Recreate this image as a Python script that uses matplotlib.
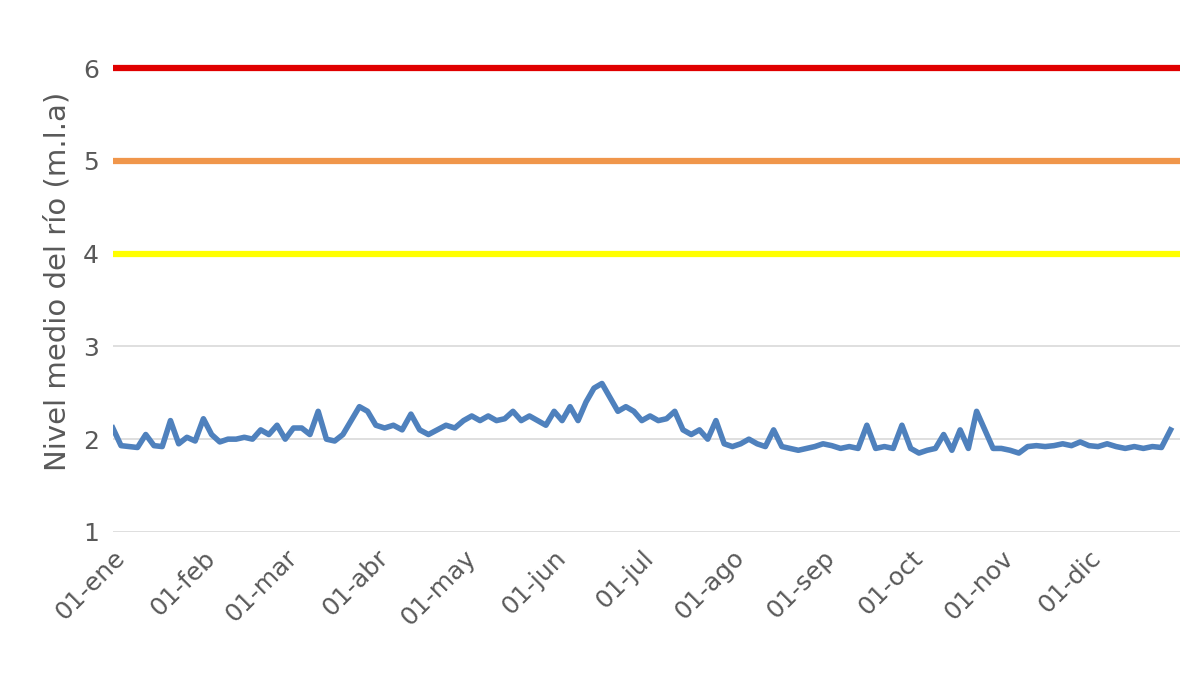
import numpy as np
import matplotlib.pyplot as plt

# DATA ----------------------------------------------------------
month_labels = ['01-ene', '01-feb', '01-mar', '01-abr', '01-may', '01-jun',
                '01-jul', '01-ago', '01-sep', '01-oct', '01-nov', '01-dic']
month_days = [31, 28, 31, 30, 31, 30, 31, 31, 30, 31, 30, 31]

# river level, roughly every 3 days, per month
level_by_month = [
    [2.12, 1.93, 1.92, 1.91, 2.05, 1.93, 1.92, 2.2, 1.95, 2.02, 1.98],
    [2.22, 2.05, 1.97, 2.0, 2.0, 2.02, 2.0, 2.1, 2.05, 2.15],
    [2.0, 2.12, 2.12, 2.05, 2.3, 2.0, 1.98, 2.05, 2.2, 2.35, 2.3],
    [2.15, 2.12, 2.15, 2.1, 2.27, 2.1, 2.05, 2.1, 2.15, 2.12],
    [2.2, 2.25, 2.2, 2.25, 2.2, 2.22, 2.3, 2.2, 2.25, 2.2, 2.15],
    [2.3, 2.2, 2.35, 2.2, 2.4, 2.55, 2.6, 2.45, 2.3, 2.35, 2.3],
    [2.2, 2.25, 2.2, 2.22, 2.3, 2.1, 2.05, 2.1, 2.0, 2.2, 1.95],
    [1.92, 1.95, 2.0, 1.95, 1.92, 2.1, 1.92, 1.9, 1.88, 1.9, 1.92],
    [1.95, 1.93, 1.9, 1.92, 1.9, 2.15, 1.9, 1.92, 1.9, 2.15],
    [1.9, 1.85, 1.88, 1.9, 2.05, 1.88, 2.1, 1.9, 2.3, 2.1, 1.9],
    [1.9, 1.88, 1.85, 1.92, 1.93, 1.92, 1.93, 1.95, 1.93, 1.97],
    [1.93, 1.92, 1.95, 1.92, 1.9, 1.92, 1.9, 1.92, 1.91, 2.1],
]

thresholds = [4, 5, 6]
threshold_colors = ['#FFFF00', '#F0964B', '#E00000']

# BUILD SERIES --------------------------------------------------
month_starts = np.concatenate([[0], np.cumsum(month_days)[:-1]])
days, levels = [], []
for start, n, vals in zip(month_starts, month_days, level_by_month):
    days.extend(start + np.arange(len(vals)) * n / len(vals))
    levels.extend(vals)

# PLOTTING ------------------------------------------------------
fig = plt.figure(figsize=(12, 6.89), dpi=100)
ax = fig.add_axes([0.094, 0.228, 0.889, 0.727])

for t, c in zip(thresholds, threshold_colors):
    ax.axhline(t, color=c, lw=4.5, zorder=3)
ax.plot(days, levels, color='#4F81BD', lw=4, zorder=4)

ax.set_xlim(0, 365)
ax.set_ylim(1, 6.4)
ax.set_yticks([1, 2, 3, 4, 5, 6])
ax.set_xticks(month_starts)
ax.set_xticklabels(month_labels, rotation=45, ha='right', rotation_mode='anchor')
ax.yaxis.grid(True, color='#D9D9D9', lw=1.2)
ax.set_axisbelow(True)
for s in ax.spines.values():
    s.set_visible(False)
ax.tick_params(length=0, labelsize=18, colors='#595959', pad=10)
ax.set_ylabel('Nivel medio del río (m.l.a)', fontsize=21, color='#595959', labelpad=8)

fig.savefig('out.png')
